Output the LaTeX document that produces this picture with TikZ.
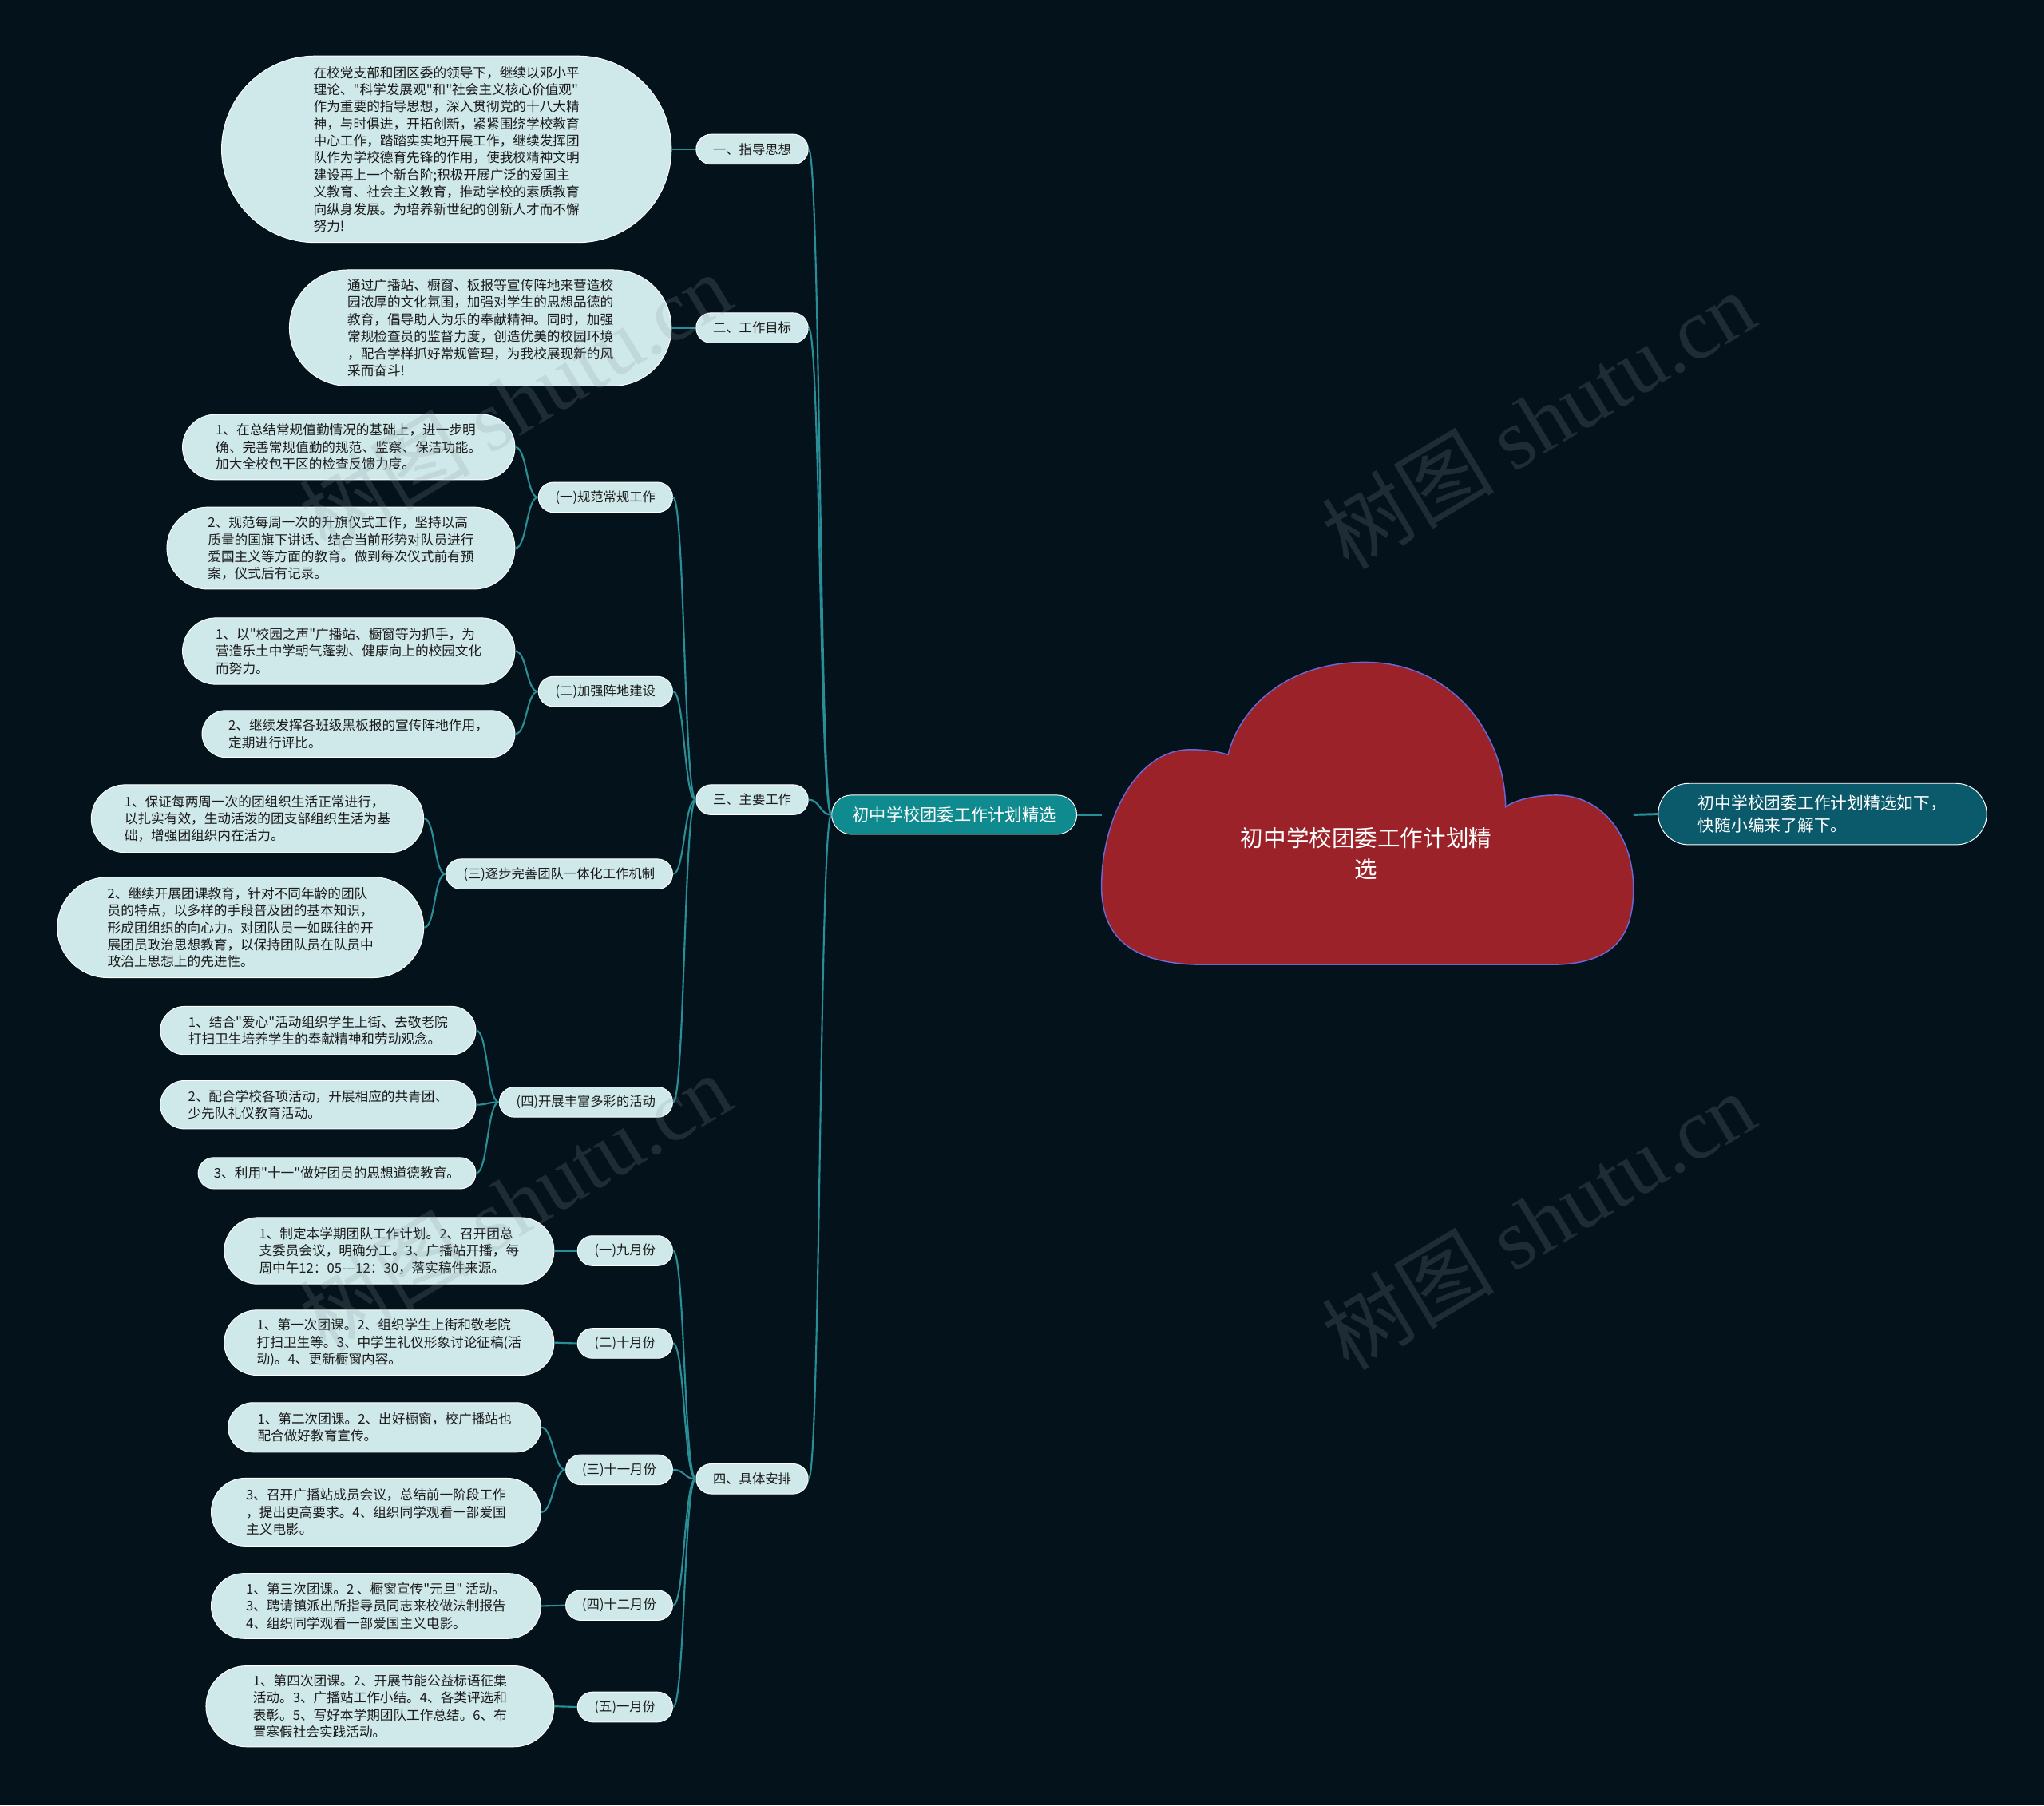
\documentclass[tikz,border=0pt]{standalone}
\usepackage{fontspec}
\setmainfont{Noto Sans CJK SC}[Ligatures=TeXOff]
\newfontfamily\wmserif{Liberation Serif}
\usetikzlibrary{shapes.misc}
\definecolor{bg}{HTML}{04121B}
\definecolor{bubble}{HTML}{CFE8EA}
\definecolor{conn}{HTML}{2A8E96}
\definecolor{cloudred}{HTML}{9B2228}
\definecolor{cloudline}{HTML}{6A68D6}
\definecolor{midteal}{HTML}{0F8A8E}
\definecolor{sumteal}{HTML}{0A5A6C}
\definecolor{txt}{HTML}{1B1B1B}
\definecolor{wmgray}{HTML}{8A9AA0}
\tikzset{
  bub/.style={rounded rectangle, fill=bubble, draw=white, line width=0.6pt, inner sep=0pt,
    align=left, text=txt, font=\fontsize{10.2}{13.1}\selectfont},
  lab/.style={rounded rectangle, fill=bubble, draw=white, line width=0.6pt, inner sep=0pt,
    text=txt, font=\fontsize{10}{12}\selectfont, minimum height=23pt},
  link/.style={draw=conn, line width=1.3pt},
  wm/.style={text=wmgray, opacity=0.2, font=\fontsize{66}{70}\selectfont, inner sep=0pt},
}
\newcommand\curvelink[2]{\draw[link] (#1.west) .. controls +(-9pt,0pt) and +(9pt,0pt) .. (#2.east);}
\newcommand\straightlink[2]{\draw[link] (#1.west) -- (#2.east);}
\begin{document}
\begin{tikzpicture}[x=1pt,y=-1pt]
\useasboundingbox (0,0) rectangle (1568,1385);
\fill[bg] (0,0) rectangle (1568,1385);

% ---------- root cloud ----------
\filldraw[fill=cloudred, draw=cloudline, line width=0.9pt]
  (923,740) -- (1190,740)
  .. controls (1238,740) and (1253,718) .. (1253,682)
  .. controls (1253,640) and (1228,610) .. (1194,610)
  .. controls (1176,610) and (1162,614) .. (1155,619)
  .. controls (1154,560) and (1112,508) .. (1047,508)
  .. controls (990,508) and (952,540) .. (942,579)
  .. controls (933,576) and (922,575) .. (913,575)
  .. controls (872,575) and (845,628) .. (845,680)
  .. controls (845,722) and (872,740) .. (923,740) -- cycle;
\node[text=white, align=center, font=\fontsize{17.5}{24}\selectfont] (root) at (1048,655)
  {初中学校团委工作计划精\\选};
\coordinate (rootW) at (845,625);
\coordinate (rootE) at (1253,625);

\node[rounded rectangle, fill=midteal, draw=white, line width=0.6pt, inner sep=0pt,
  minimum width=188pt, minimum height=30pt, text=white, font=\fontsize{13}{15}\selectfont]
  (mid) at (732,625) {初中学校团委工作计划精选};
\node[rounded rectangle, fill=sumteal, draw=white, line width=0.6pt, inner sep=0pt,
  minimum width=252pt, minimum height=47pt, text=white, align=left,
  font=\fontsize{12.7}{17}\selectfont]
  (sum) at (1398,624.5) {初中学校团委工作计划精选如下，\\快随小编来了解下。};

% ---------- level 1 ----------
\node[lab, minimum width=86pt] (n1) at (577,114.5) {一、指导思想};
\node[lab, minimum width=86pt] (n2) at (577,251.5) {二、工作目标};
\node[lab, minimum width=86pt] (n3) at (577,613.5) {三、主要工作};
\node[lab, minimum width=86pt] (n4) at (577,1134.5) {四、具体安排};

\node[bub, minimum width=345pt, minimum height=143pt] (l1) at (342.5,114.5)
{在校党支部和团区委的领导下，继续以邓小平\\
理论、"科学发展观"和"社会主义核心价值观"\\
作为重要的指导思想，深入贯彻党的十八大精\\
神，与时俱进，开拓创新，紧紧围绕学校教育\\
中心工作，踏踏实实地开展工作，继续发挥团\\
队作为学校德育先锋的作用，使我校精神文明\\
建设再上一个新台阶;积极开展广泛的爱国主\\
义教育、社会主义教育，推动学校的素质教育\\
向纵身发展。为培养新世纪的创新人才而不懈\\
努力!};

\node[bub, minimum width=293pt, minimum height=89pt] (l2) at (368.5,251.5)
{通过广播站、橱窗、板报等宣传阵地来营造校\\
园浓厚的文化氛围，加强对学生的思想品德的\\
教育，倡导助人为乐的奉献精神。同时，加强\\
常规检查员的监督力度，创造优美的校园环境\\
，配合学样抓好常规管理，为我校展现新的风\\
采而奋斗!};

% ---------- level 2 under 三 ----------
\node[lab, minimum width=103pt] (a1) at (464.5,381.5) {(一)规范常规工作};
\node[lab, minimum width=103pt] (a2) at (464.5,530.5) {(二)加强阵地建设};
\node[lab, minimum width=174pt] (a3) at (429,670.5) {(三)逐步完善团队一体化工作机制};
\node[lab, minimum width=133pt] (a4) at (449.5,845.5) {(四)开展丰富多彩的活动};

\node[bub, minimum width=255pt, minimum height=50pt] (a1x) at (267.5,343)
{1、在总结常规值勤情况的基础上，进一步明\\
确、完善常规值勤的规范、监察、保洁功能。\\
加大全校包干区的检查反馈力度。};
\node[bub, minimum width=267pt, minimum height=63pt] (a1y) at (261.5,420.5)
{2、规范每周一次的升旗仪式工作，坚持以高\\
质量的国旗下讲话、结合当前形势对队员进行\\
爱国主义等方面的教育。做到每次仪式前有预\\
案，仪式后有记录。};

\node[bub, minimum width=255pt, minimum height=51pt] (a2x) at (267.5,499.5)
{1、以"校园之声"广播站、橱窗等为抓手，为\\
营造乐土中学朝气蓬勃、健康向上的校园文化\\
而努力。};
\node[bub, minimum width=240pt, minimum height=36pt] (a2y) at (275,563)
{2、继续发挥各班级黑板报的宣传阵地作用，\\
定期进行评比。};

\node[bub, minimum width=255pt, minimum height=52pt] (a3x) at (197.5,628)
{1、保证每两周一次的团组织生活正常进行，\\
以扎实有效，生动活泼的团支部组织生活为基\\
础，增强团组织内在活力。};
\node[bub, minimum width=281pt, minimum height=77pt] (a3y) at (184.5,711.5)
{2、继续开展团课教育，针对不同年龄的团队\\
员的特点，以多样的手段普及团的基本知识，\\
形成团组织的向心力。对团队员一如既往的开\\
展团员政治思想教育，以保持团队员在队员中\\
政治上思想上的先进性。};

\node[bub, minimum width=242pt, minimum height=37pt] (a4x) at (244,790.5)
{1、结合"爱心"活动组织学生上街、去敬老院\\
打扫卫生培养学生的奉献精神和劳动观念。};
\node[bub, minimum width=242pt, minimum height=37pt] (a4y) at (244,847.5)
{2、配合学校各项活动，开展相应的共青团、\\
少先队礼仪教育活动。};
\node[bub, minimum width=213pt, minimum height=24pt] (a4z) at (258.5,900)
{3、利用"十一"做好团员的思想道德教育。};

% ---------- level 2 under 四 ----------
\node[lab, minimum width=73pt] (m1) at (479.5,959.5) {(一)九月份};
\node[lab, minimum width=73pt] (m2) at (479.5,1030.5) {(二)十月份};
\node[lab, minimum width=82pt] (m3) at (475,1127.5) {(三)十一月份};
\node[lab, minimum width=82pt] (m4) at (475,1231.5) {(四)十二月份};
\node[lab, minimum width=73pt] (m5) at (479.5,1309.5) {(五)一月份};

\node[bub, minimum width=253pt, minimum height=51pt] (m1x) at (298.5,959.5)
{1、制定本学期团队工作计划。2、召开团总\\
支委员会议，明确分工。3、广播站开播，每\\
周中午12：05{-}{-}{-}12：30，落实稿件来源。};
\node[bub, minimum width=253pt, minimum height=50pt] (m2x) at (298.5,1030)
{1、第一次团课。2、组织学生上街和敬老院\\
打扫卫生等。3、中学生礼仪形象讨论征稿(活\\
动)。4、更新橱窗内容。};
\node[bub, minimum width=240pt, minimum height=38pt] (m3x) at (295,1095)
{1、第二次团课。2、出好橱窗，校广播站也\\
配合做好教育宣传。};
\node[bub, minimum width=253pt, minimum height=52pt] (m3y) at (288.5,1160)
{3、召开广播站成员会议，总结前一阶段工作\\
，提出更高要求。4、组织同学观看一部爱国\\
主义电影。};
\node[bub, minimum width=253pt, minimum height=50pt] (m4x) at (288.5,1232)
{1、第三次团课。2 、橱窗宣传"元旦" 活动。\\
3、聘请镇派出所指导员同志来校做法制报告\\
4、组织同学观看一部爱国主义电影。};
\node[bub, minimum width=267pt, minimum height=62pt] (m5x) at (291.5,1309)
{1、第四次团课。2、开展节能公益标语征集\\
活动。3、广播站工作小结。4、各类评选和\\
表彰。5、写好本学期团队工作总结。6、布\\
置寒假社会实践活动。};

% ---------- connectors ----------
\draw[link, line width=1.8pt] (rootW) -- (mid.east);
\draw[link, line width=1.8pt] (rootE) -- (sum.west);
\curvelink{mid}{n1}
\curvelink{mid}{n2}
\curvelink{mid}{n3}
\curvelink{mid}{n4}
\straightlink{n1}{l1}
\straightlink{n2}{l2}
\curvelink{n3}{a1}
\curvelink{n3}{a2}
\curvelink{n3}{a3}
\curvelink{n3}{a4}
\curvelink{a1}{a1x}
\curvelink{a1}{a1y}
\curvelink{a2}{a2x}
\curvelink{a2}{a2y}
\curvelink{a3}{a3x}
\curvelink{a3}{a3y}
\curvelink{a4}{a4x}
\curvelink{a4}{a4y}
\curvelink{a4}{a4z}
\curvelink{n4}{m1}
\curvelink{n4}{m2}
\curvelink{n4}{m3}
\curvelink{n4}{m4}
\curvelink{n4}{m5}
\straightlink{m1}{m1x}
\straightlink{m2}{m2x}
\curvelink{m3}{m3x}
\curvelink{m3}{m3y}
\straightlink{m4}{m4x}
\straightlink{m5}{m5x}

% ---------- watermarks ----------
\node[wm, rotate=31] (wm1) at (395,308) {树图 {\wmserif shutu.cn}};
\node[wm, rotate=31] (wm2) at (1180,322) {树图 {\wmserif shutu.cn}};
\node[wm, rotate=31] (wm3) at (395,922) {树图 {\wmserif shutu.cn}};
\node[wm, rotate=31] (wm4) at (1180,936) {树图 {\wmserif shutu.cn}};
\end{tikzpicture}
\end{document}
